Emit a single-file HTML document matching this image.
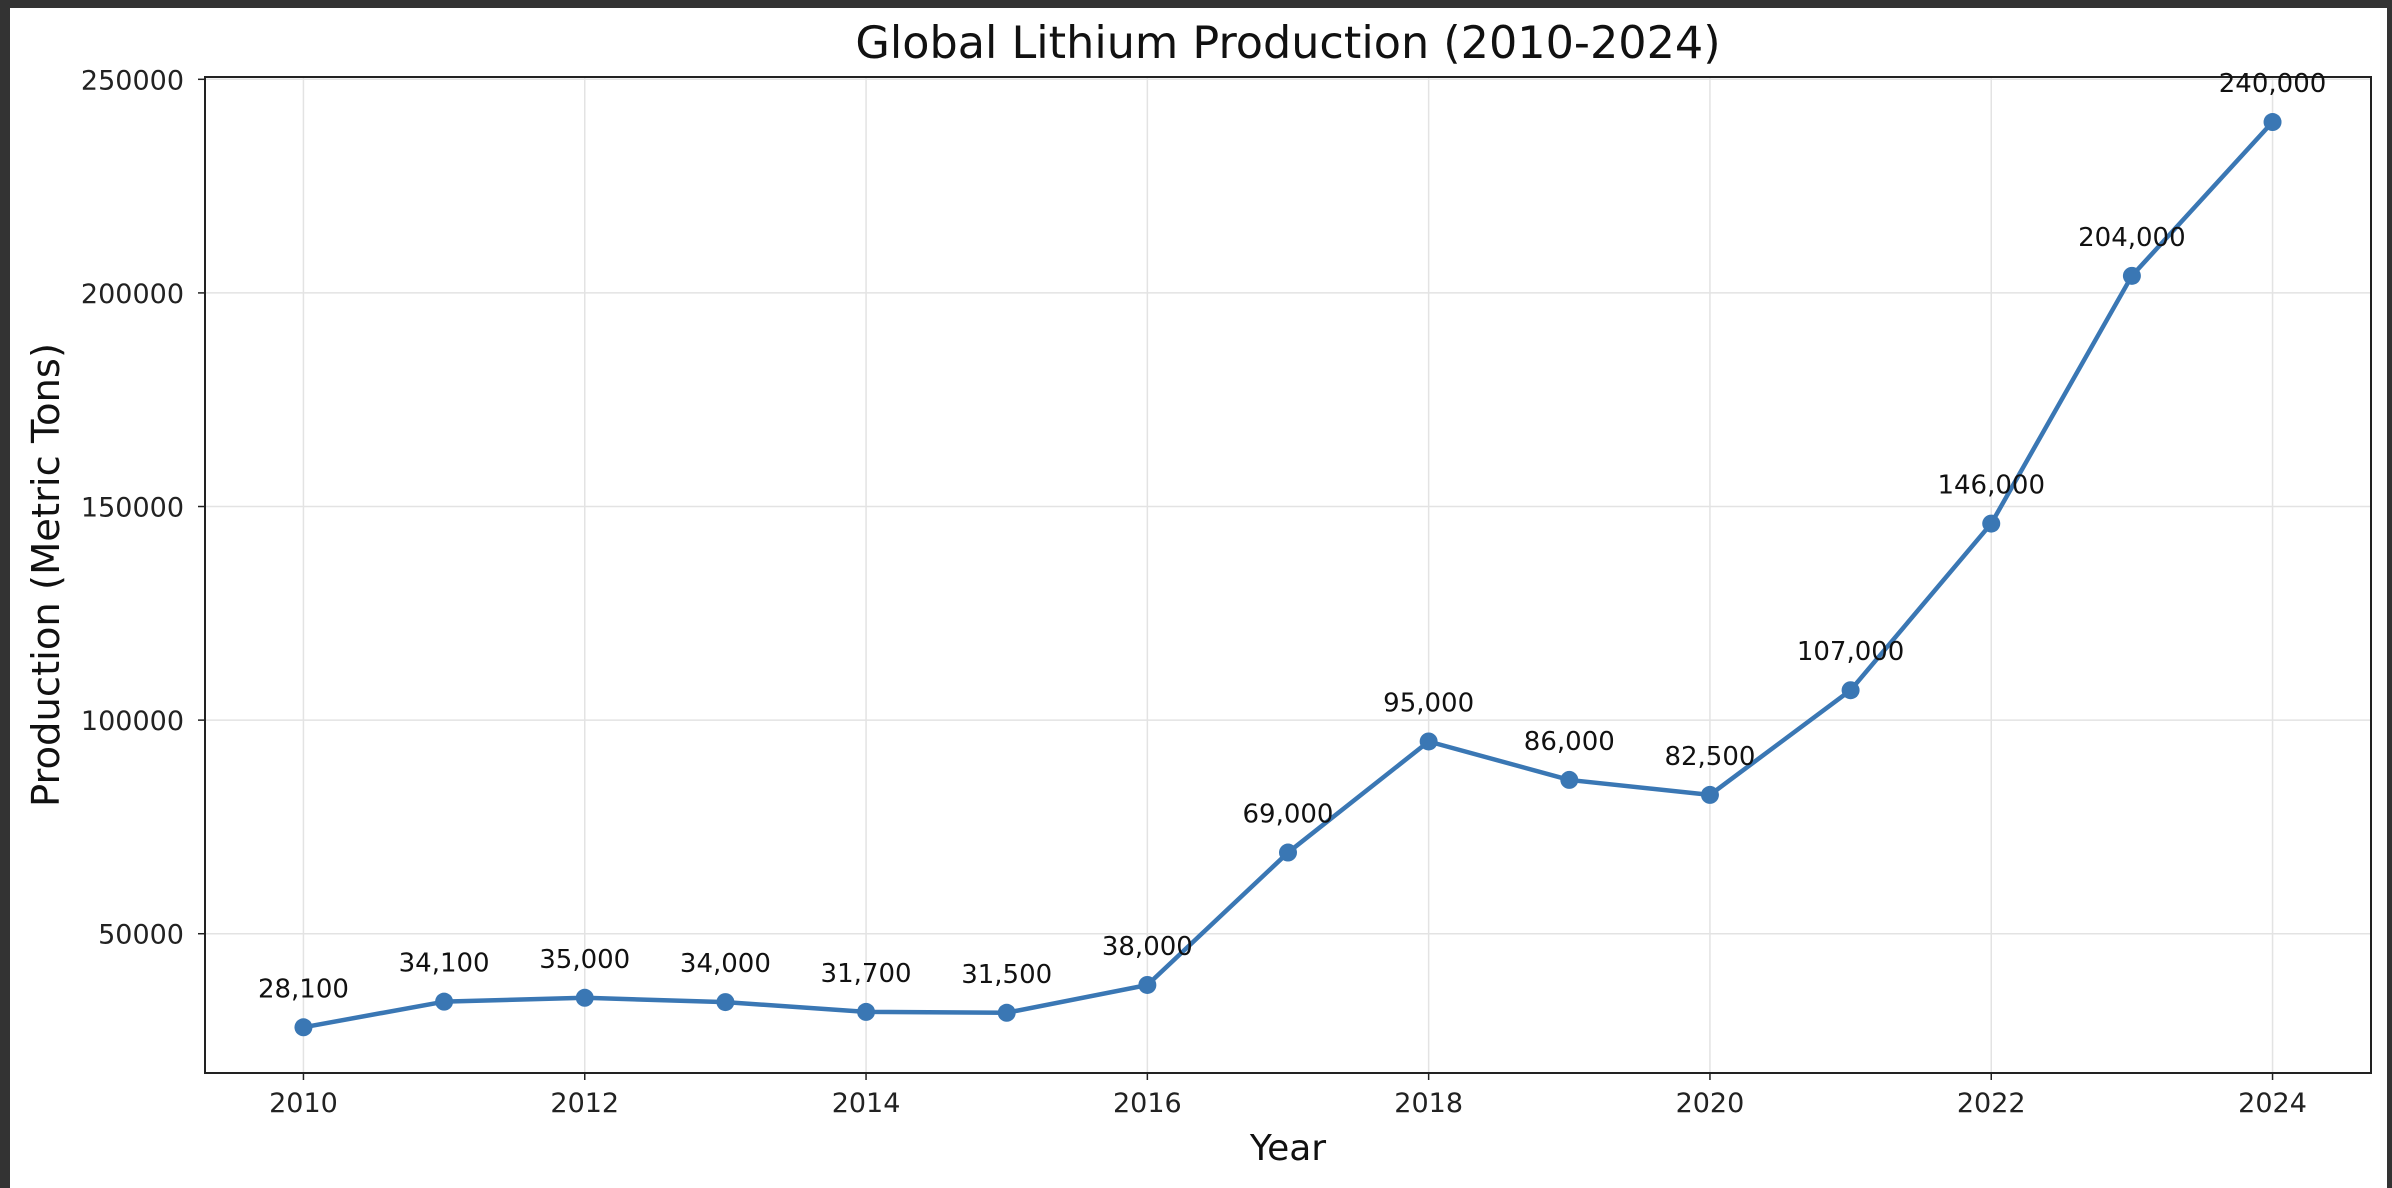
<!DOCTYPE html>
<html><head><meta charset="utf-8"><style>
html,body{margin:0;padding:0;background:#333;}
svg{display:block;font-family:"DejaVu Sans","Liberation Sans",sans-serif;}
</style></head><body>
<svg width="2392" height="1188" viewBox="0 0 2392 1188" xmlns="http://www.w3.org/2000/svg">
<rect x="0" y="0" width="2392" height="1188" fill="#333333"/>
<rect x="10" y="8" width="2377" height="1180" fill="#ffffff"/>
<g id="grid"></g>
<g id="axes"></g>
<g id="series"></g>
<text x="1288" y="58" font-size="44.5" text-anchor="middle" fill="#111">Global Lithium Production (2010-2024)</text>
<text x="1288" y="1160" font-size="36" text-anchor="middle" fill="#111">Year</text>
<text x="0" y="0" font-size="38.5" text-anchor="middle" fill="#111" transform="translate(59,575) rotate(-90)">Production (Metric Tons)</text>
</svg>
<script>
const years=[2010,2011,2012,2013,2014,2015,2016,2017,2018,2019,2020,2021,2022,2023,2024];
const production=[28100,34100,35000,34000,31700,31500,38000,69000,95000,86000,82500,107000,146000,204000,240000];
const xTicks=[2010,2012,2014,2016,2018,2020,2022,2024];
const yTicks=[50000,100000,150000,200000,250000];

const NS="http://www.w3.org/2000/svg";
const L=205,R=2371,T=77,B=1073;
const xMin=2009.3,xMax=2024.7,yMin=17400,yMax=250540;
function sx(v){return L+(v-xMin)/(xMax-xMin)*(R-L);}
function sy(v){return B-(v-yMin)/(yMax-yMin)*(B-T);}
function mk(tag,attrs,parent){const e=document.createElementNS(NS,tag);for(const k in attrs)e.setAttribute(k,attrs[k]);parent.appendChild(e);return e;}
const grid=document.getElementById('grid'),axes=document.getElementById('axes'),series=document.getElementById('series');

xTicks.forEach(t=>{
  const g=mk('line',{x1:sx(t),x2:sx(t),y1:T,y2:B,stroke:'#e3e3e3','stroke-width':1.5},grid);
  
  
  const tk=mk('line',{x1:sx(t),x2:sx(t),y1:B,y2:B+7,stroke:'#222','stroke-width':1.5},axes);
  
  
  const lb=mk('text',{x:sx(t),y:B+39,'font-size':27,'text-anchor':'middle',fill:'#222'},axes);
  lb.textContent=t;
  
  
});
yTicks.forEach(t=>{
  const g=mk('line',{x1:L,x2:R,y1:sy(t),y2:sy(t),stroke:'#e3e3e3','stroke-width':1.5},grid);
  
  
  const tk=mk('line',{x1:L-7,x2:L,y1:sy(t),y2:sy(t),stroke:'#222','stroke-width':1.5},axes);
  
  
  const lb=mk('text',{x:L-21,y:sy(t)+10,'font-size':27,'text-anchor':'end',fill:'#222'},axes);
  lb.textContent=t;
  
  
});
const frame=mk('rect',{x:L,y:T,width:R-L,height:B-T,fill:'none',stroke:'#222','stroke-width':2},axes);



const pts=years.map((y,i)=>sx(y)+','+sy(production[i])).join(' ');
const line=mk('polyline',{points:pts,fill:'none',stroke:'#3a77b4','stroke-width':4.5,'stroke-linejoin':'round'},series);


years.forEach((y,i)=>{
  const c=mk('circle',{cx:sx(y),cy:sy(production[i]),r:9,fill:'#3a77b4'},series);
  
  
  const t=mk('text',{x:sx(y),y:sy(production[i])-30,'font-size':26,'text-anchor':'middle',fill:'#111'},series);
  t.textContent=production[i].toLocaleString('en-US');
  
  
});
</script>
</body></html>
